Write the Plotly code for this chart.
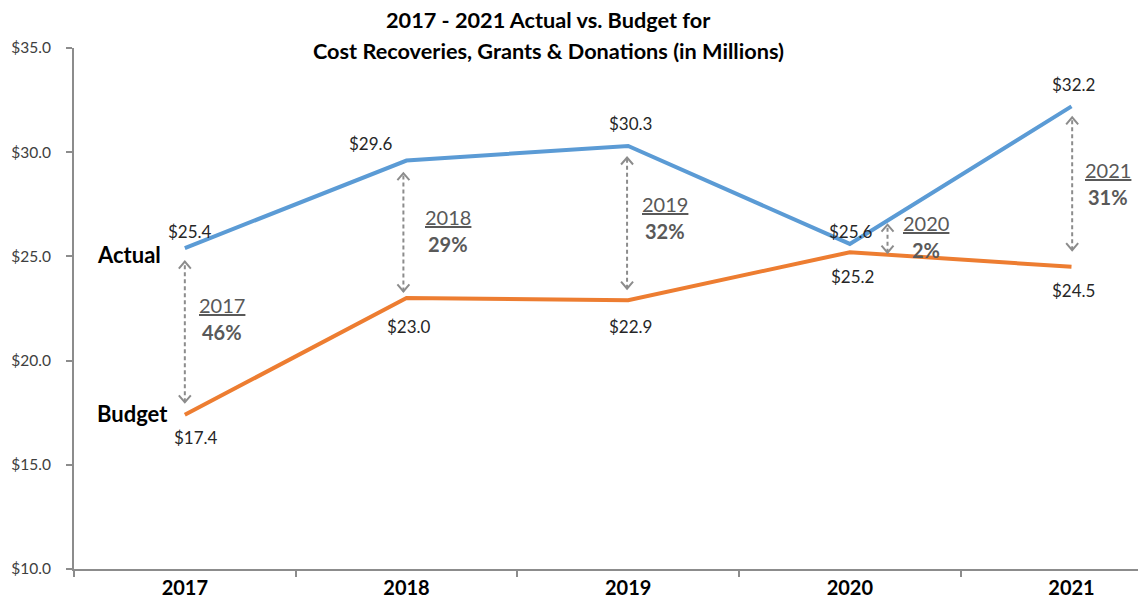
import plotly.graph_objects as go

years = ["2017", "2018", "2019", "2020", "2021"]
actual = [25.4, 29.6, 30.3, 25.6, 32.2]
budget = [17.4, 23.0, 22.9, 25.2, 24.5]
y_ticks = [10, 15, 20, 25, 30, 35]

# styling / placement (not data)
BLUE = "#5B9BD5"
ORANGE = "#ED7D31"
GREY = "#8C8C8C"
FONT = "Lato"
arrow_dx = [0.0, -0.014, -0.005, 0.17, 0.003]
gap_top = [0.65, 0.55, 0.55, 0.2, 0.55]
gap_bot = [0.6, 0.4, 0.55, 0.1, 0.8]
act_lbl_dx = [5, -36, 2, 1, 2]
act_lbl_dy = [17, 17, 22, 12, 22]
bud_lbl_dx = [11, 2, 2, 3, 2]
bud_lbl_dy = [-23, -28, -26, -24, -24]
pct_dx = [37, 45, 38, 38, 36]
pct_dy = [13, 2, 6, 2, 0]

xs = list(range(len(years)))

fig = go.Figure()
fig.add_trace(go.Scatter(x=xs, y=actual, mode="lines", line=dict(color=BLUE, width=4),
                         name="Actual", hoverinfo="skip"))
fig.add_trace(go.Scatter(x=xs, y=budget, mode="lines", line=dict(color=ORANGE, width=4),
                         name="Budget", hoverinfo="skip"))

annotations = []
shapes = []


def interp(series, x):
    i = int(min(max(int(x), 0), len(series) - 2))
    t = x - i
    return series[i] + (series[i + 1] - series[i]) * t


for i, yr in enumerate(years):
    # data labels
    annotations.append(dict(x=xs[i], y=actual[i], xref="x", yref="y", text=f"${actual[i]:.1f}",
                            showarrow=False, xshift=act_lbl_dx[i], yshift=act_lbl_dy[i],
                            font=dict(family=FONT, size=17, color="#262626")))
    annotations.append(dict(x=xs[i], y=budget[i], xref="x", yref="y", text=f"${budget[i]:.1f}",
                            showarrow=False, xshift=bud_lbl_dx[i], yshift=bud_lbl_dy[i],
                            font=dict(family=FONT, size=17, color="#262626")))
    # double arrows
    ax = xs[i] + arrow_dx[i]
    top = interp(actual, ax) - gap_top[i]
    bot = interp(budget, ax) + gap_bot[i]
    shapes.append(dict(type="line", xref="x", yref="y", x0=ax, x1=ax, y0=bot, y1=top,
                       line=dict(color=GREY, width=2, dash="4px,3px")))
    shapes.append(dict(type="path", xref="x", yref="y", xsizemode="pixel", ysizemode="pixel",
                       xanchor=ax, yanchor=top, path="M-6,-7 L0,0 L6,-7",
                       line=dict(color=GREY, width=2)))
    shapes.append(dict(type="path", xref="x", yref="y", xsizemode="pixel", ysizemode="pixel",
                       xanchor=ax, yanchor=bot, path="M-6,7 L0,0 L6,7",
                       line=dict(color=GREY, width=2)))
    mid = (top + bot) / 2
    pct = round((actual[i] - budget[i]) / budget[i] * 100)
    annotations.append(dict(x=ax, y=mid, xref="x", yref="y", text=f"<u>{yr}</u>",
                            showarrow=False, xshift=pct_dx[i], yshift=13.5 + pct_dy[i],
                            font=dict(family=FONT, size=20, color="#595959")))
    annotations.append(dict(x=ax, y=mid, xref="x", yref="y", text=f"<b>{pct}%</b>",
                            showarrow=False, xshift=pct_dx[i], yshift=-13.5 + pct_dy[i],
                            font=dict(family=FONT, size=20, color="#595959")))

# series names
annotations.append(dict(x=xs[0], y=actual[0], xref="x", yref="y", text="<b>Actual</b>",
                        showarrow=False, xanchor="right", xshift=-22, yshift=-6,
                        font=dict(family=FONT, size=22, color="#000000")))
annotations.append(dict(x=xs[0], y=budget[0], xref="x", yref="y", text="<b>Budget</b>",
                        showarrow=False, xanchor="right", xshift=-15, yshift=1,
                        font=dict(family=FONT, size=22, color="#000000")))

# title
annotations.append(dict(x=0.4455, y=1.0547, xref="paper", yref="paper", yanchor="middle",
                        text="<b>2017 - 2021 Actual vs. Budget for</b>", showarrow=False,
                        font=dict(family=FONT, size=21.7, color="#000000")))
annotations.append(dict(x=0.4455, y=0.9933, xref="paper", yref="paper", yanchor="middle",
                        text="<b>Cost Recoveries, Grants & Donations (in Millions)</b>", showarrow=False,
                        font=dict(family=FONT, size=21.7, color="#000000")))

fig.update_layout(
    width=1138, height=609,
    margin=dict(l=74, r=0, t=48, b=40),
    paper_bgcolor="white", plot_bgcolor="white",
    showlegend=False,
    annotations=annotations,
    shapes=shapes,
    font=dict(family=FONT),
)
fig.update_xaxes(
    range=[-0.5, 4.30],
    tickmode="array", tickvals=xs, ticktext=[f"<b>{y}</b>" for y in years],
    ticks="", showgrid=False, zeroline=False,
    showline=True, linecolor="#8C8C8C", linewidth=2,
    tickfont=dict(family=FONT, size=20, color="#000000"),
    minor=dict(tickmode="linear", tick0=-0.5, dtick=1, ticks="outside", ticklen=6,
               tickcolor="#8C8C8C", tickwidth=2, showgrid=False),
    fixedrange=True,
)
fig.update_yaxes(
    range=[10, 35], tickmode="array", tickvals=y_ticks,
    ticktext=[f"${v:.1f}" for v in y_ticks],
    ticks="outside", ticklen=6, tickcolor="#8C8C8C", tickwidth=2,
    ticklabelstandoff=12,
    showgrid=False, zeroline=False,
    showline=True, linecolor="#8C8C8C", linewidth=2,
    tickfont=dict(family=FONT, size=15.5, color="#404040"),
    fixedrange=True,
)

fig.write_html("out.html", config={"displayModeBar": False},
               post_script="document.body.style.margin='0';document.body.style.overflow='hidden';")
